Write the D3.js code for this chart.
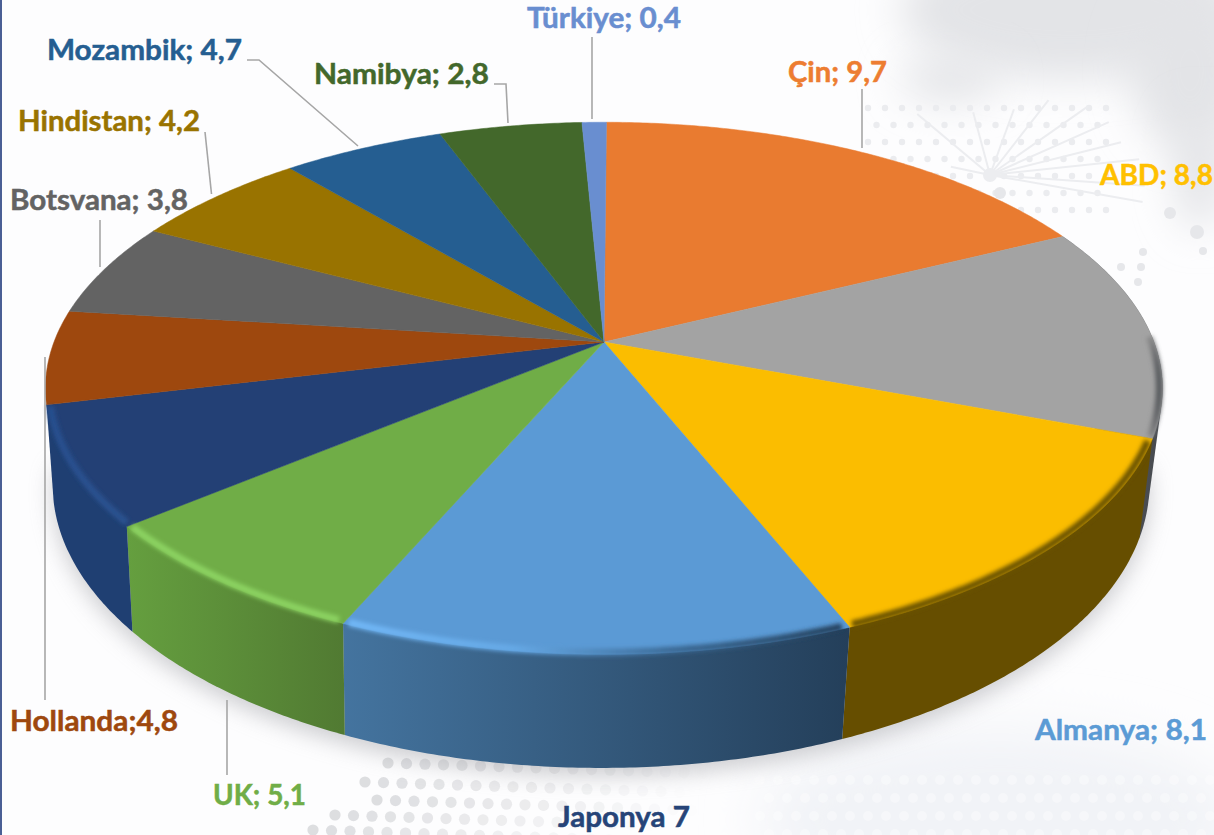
<!DOCTYPE html>
<html>
<head>
<meta charset="utf-8">
<script src="https://cdn.jsdelivr.net/npm/d3@7"></script>
<style>
  html, body { margin: 0; padding: 0; background: #fff; overflow: hidden; }
  text { font-family: Lato, sans-serif; font-weight: 700; font-size: 28px; stroke-width: 0.5px; }
</style>
</head>
<body>
<svg id="chart" width="1214" height="835"></svg>
<script>
// slice order, clockwise from the top. the grey slice has no label in the picture
const names = ['Çin', '', 'ABD', 'Almanya', 'UK', 'Japonya', 'Hollanda', 'Botsvana', 'Hindistan', 'Mozambik', 'Namibya', 'Türkiye']
const labelValues = ['9,7', '', '8,8', '8,1', '5,1', '7', '4,8', '3,8', '4,2', '4,7', '2,8', '0,4']
// slice sizes as drawn, read off the rim in degrees (the drawing does not follow the labels exactly)
const sliceShares = [63.6, 46.7, 47.4, 45.5, 27, 26, 20.5, 20.7, 22, 20, 17.6, 3]
const topColors = ['#e97b30', '#a3a3a3', '#fbbd00', '#5b9ad5', '#70ad47', '#234075', '#9e480e', '#636363', '#997300', '#255e91', '#43682b', '#698ed0']
const labelColors = ['#ed7d31', '', '#ffc000', '#5b9bd5', '#70ad47', '#264478', '#9e480e', '#636363', '#997300', '#255e91', '#43682b', '#698ed0']
const wallLeft = ['#b85f25', '#54575c', '#664e00', '#44749f', '#659f3f', '#1f3f72', '#7f3a0b', '#505050', '#7a5c00', '#1e4b74', '#365322', '#5470a5']
const wallRight = ['#b85f25', '#474a4f', '#664e00', '#243f5a', '#517a32', '#1f3f72', '#7f3a0b', '#505050', '#7a5c00', '#1e4b74', '#365322', '#5470a5']
// edge between top and wall, left to right along each front slice
const bevelColors = [null, ['#8f8f8f', '#55585c'], ['#6b5200', '#6b5200'], ['#72b8f7', '#66a9e6', '#3a6893', '#24405c'], ['#8cd362', '#8cd362'], ['#28508f', '#2a5290'], null, null, null, null, null, null]

const svg = d3.select('#chart')
const defs = svg.append('defs')

const rad = d => d * Math.PI / 180

// perspective of the disc: top face and (smaller, lower) bottom face
const topFace = { cx: 604, cy: 342, a: 550, b: 258, k: 0.174 }
const bottomFace = { cx: 601, cy: 435, a: 540, b: 275, k: 0.174 }

function project (face, angle, r = 1) {
  const u = Math.sin(angle) * r
  const v = Math.cos(angle) * r
  const w = 1 + face.k * v
  return [face.cx + face.a * u / w, face.cy - face.b * v / w]
}

function rim (face, a0, a1, r = 1) {
  const n = Math.max(2, Math.ceil(Math.abs(a1 - a0) / rad(0.5)))
  return d3.range(n + 1).map(i => project(face, a0 + (a1 - a0) * i / n, r))
}

const line = d3.line()

const pie = d3.pie().sort(null).startAngle(rad(0.3)).endAngle(rad(360.3))
const slices = pie(sliceShares).map((d, i) => ({
  ...d,
  name: names[i],
  color: topColors[i],
  left: wallLeft[i],
  right: wallRight[i],
  bevel: bevelColors[i]
}))

// filters
const blur = (id, dev) => defs.append('filter')
  .attr('id', id)
  .attr('x', '-80%').attr('y', '-80%').attr('width', '260%').attr('height', '260%')
  .append('feGaussianBlur').attr('stdDeviation', dev)
blur('blur2', 2.3)
blur('blur14', 11)
blur('blur20', 20)
blur('blur30', 28)

// background --------------------------------------------------------------
const bg = svg.append('g')
bg.append('rect').attr('width', 1214).attr('height', 835).attr('fill', '#fdfdfe')

// grey smudge top right
const smudges = [[1070, 10, 170, 70], [1190, 70, 60, 80], [1200, 170, 26, 60], [950, 80, 50, 22]]
bg.append('g').selectAll('ellipse').data(smudges).join('ellipse')
  .attr('cx', d => d[0]).attr('cy', d => d[1]).attr('rx', d => d[2]).attr('ry', d => d[3])
  .attr('fill', '#e3e4e7').attr('filter', 'url(#blur20)')
bg.append('ellipse')
  .attr('cx', 1000).attr('cy', 820).attr('rx', 240).attr('ry', 90)
  .attr('fill', '#f1f3f7').attr('filter', 'url(#blur30)')

// halftone dots, upper patch
const dotGrid = (x0, x1, y0, y1, step) => d3.range(y0, y1, step).flatMap((y, row) =>
  d3.range(x0 + (row % 2) * step / 2, x1, step).map(x => [x, y]))

bg.append('g').selectAll('circle')
  .data(dotGrid(868, 1110, 108, 222, 17))
  .join('circle')
  .attr('cx', d => d[0]).attr('cy', d => d[1]).attr('r', 3.2)
  .attr('fill', '#ebecef')

// burst of thin lines behind the Çin / ABD corner
const hub = [990, 175]
const spokes = [[-168, 40], [-140, 95], [-105, 65], [-70, 70], [-52, 95], [-35, 120], [-24, 130], [-14, 135], [-6, 150], [4, 155], [10, 155]]
bg.append('g').selectAll('line').data(spokes).join('line')
  .attr('x1', hub[0]).attr('y1', hub[1])
  .attr('x2', d => hub[0] + d[1] * Math.cos(rad(d[0])))
  .attr('y2', d => hub[1] + d[1] * Math.sin(rad(d[0])))
  .attr('stroke', '#ecedf0').attr('stroke-width', 2)
bg.append('circle').attr('cx', hub[0]).attr('cy', hub[1]).attr('r', 7).attr('fill', '#ecedf0')

const looseDots = [[1000, 193, 6], [1170, 213, 6], [1197, 232, 7], [1203, 251, 4], [1121, 267, 4], [1141, 267, 4], [1143, 252, 4], [1138, 282, 4]]
bg.append('g').selectAll('circle').data(looseDots).join('circle')
  .attr('cx', d => d[0]).attr('cy', d => d[1]).attr('r', d => d[2])
  .attr('fill', '#e6e7ea')

// halftone dots, bottom patch: each row starts a bit further left and fades to the right
const rowStarts = [[388, 763], [365, 782], [377, 800], [335, 815], [313, 830]]
const bottomDots = rowStarts.flatMap(r => d3.range(0, 20).map(i => [r[0] + i * 18.5, r[1] + i * 0.6, i]))
bg.append('g').selectAll('circle').data(bottomDots).join('circle')
  .attr('cx', d => d[0]).attr('cy', d => d[1]).attr('r', 5.6)
  .attr('fill', '#cfd0d3')
  .attr('opacity', d => Math.max(0, 0.7 - d[2] * 0.04))

bg.append('g').selectAll('circle')
  .data(dotGrid(760, 1214, 780, 842, 18))
  .join('circle')
  .attr('cx', d => d[0]).attr('cy', d => d[1]).attr('r', 5)
  .attr('fill', '#fff')
  .attr('opacity', 0.35)

// left border line
bg.append('rect').attr('x', 0).attr('y', 0).attr('width', 2).attr('height', 835).attr('fill', '#4a5f95')

// pie shadow --------------------------------------------------------------
svg.append('path')
  .attr('d', line(rim(bottomFace, rad(95), rad(265))) + 'Z')
  .attr('transform', 'translate(0,8)')
  .attr('fill', '#a4a5aa')
  .attr('opacity', 0.55)
  .attr('filter', 'url(#blur14)')

// outer walls -------------------------------------------------------------
// only the slices that show a wall from the front: gray to navy
slices.filter(d => d.bevel).forEach((d, i) => {
  const a = rim(topFace, d.startAngle, d.endAngle)
  const b = rim(bottomFace, d.endAngle, d.startAngle)
  const outline = d3.polygonHull(a.concat(b))
  const xs = outline.map(p => p[0])
  const grad = defs.append('linearGradient')
    .attr('id', 'wall' + i)
    .attr('gradientUnits', 'userSpaceOnUse')
    .attr('x1', d3.min(xs)).attr('x2', d3.max(xs))
    .attr('y1', 0).attr('y2', 0)
  grad.append('stop').attr('offset', 0).attr('stop-color', d.left)
  grad.append('stop').attr('offset', 1).attr('stop-color', d.right)
  svg.append('path')
    .attr('d', line(outline) + 'Z')
    .attr('fill', `url(#wall${i})`)
})

// top face ----------------------------------------------------------------
svg.append('g').selectAll('path')
  .data(slices)
  .join('path')
  .attr('d', d => line([[topFace.cx, topFace.cy]].concat(rim(topFace, d.startAngle, d.endAngle))) + 'Z')
  .attr('fill', d => d.color)
  .attr('stroke', d => d.color)
  .attr('stroke-width', 0.5)

// soft edge between top and wall, one per front slice
slices.filter(d => d.bevel).forEach((d, i) => {
  const from = i === 0 ? d.startAngle + rad(25) : d.startAngle + rad(0.6)
  const pts = rim(topFace, from, d.endAngle - rad(0.4), 0.994)
  const xs = pts.map(p => p[0])
  const grad = defs.append('linearGradient')
    .attr('id', 'bevel' + i)
    .attr('gradientUnits', 'userSpaceOnUse')
    .attr('x1', d3.min(xs)).attr('x2', d3.max(xs))
    .attr('y1', 0).attr('y2', 0)
  d.bevel.forEach((c, j) => grad.append('stop')
    .attr('offset', j / (d.bevel.length - 1))
    .attr('stop-color', c))
  svg.append('path')
    .attr('d', line(pts))
    .attr('fill', 'none')
    .attr('stroke', `url(#bevel${i})`)
    .attr('stroke-width', 7)
    .attr('filter', 'url(#blur2)')
})

// labels and leaders ------------------------------------------------------
const labelLayout = {
  'Türkiye': { x: 527, y: 28, w: 154, leader: [[592, 37], [592, 119]] },
  'Çin': { x: 788, y: 82, w: 99, leader: [[862, 89], [862, 148]] },
  'ABD': { x: 1100, y: 185, w: 113 },
  'Almanya': { x: 1035, y: 740, w: 172 },
  'Japonya': { x: 558, y: 827, w: 132, sep: ' ' },
  'UK': { x: 213, y: 805, w: 93, leader: [[227, 700], [227, 775]] },
  'Hollanda': { x: 10, y: 731, w: 168, sep: ';', leader: [[45, 357], [45, 700]] },
  'Botsvana': { x: 10, y: 210, w: 178, leader: [[100, 220], [100, 267]] },
  'Hindistan': { x: 18, y: 131, w: 182, leader: [[205, 132], [211.5, 194]] },
  'Mozambik': { x: 47, y: 60, w: 195, leader: [[247, 60], [259, 60], [358, 146]] },
  'Namibya': { x: 314, y: 84, w: 175, leader: [[494, 84], [506, 84], [508, 123]] }
}
const labelNames = names.filter(n => n)
const valueByName = new Map(names.map((n, i) => [n, labelValues[i]]))
const colorByName = new Map(names.map((n, i) => [n, labelColors[i]]))

svg.append('g').selectAll('path')
  .data(labelNames.filter(n => labelLayout[n].leader))
  .join('path')
  .attr('d', n => line(labelLayout[n].leader))
  .attr('fill', 'none')
  .attr('stroke', '#a6a6a6')
  .attr('stroke-width', 1.6)

svg.append('g').selectAll('text')
  .data(labelNames)
  .join('text')
  .attr('x', n => labelLayout[n].x)
  .attr('y', n => labelLayout[n].y)
  .attr('textLength', n => labelLayout[n].w)
  .attr('lengthAdjust', 'spacingAndGlyphs')
  .attr('fill', n => colorByName.get(n))
  .attr('stroke', n => colorByName.get(n))
  .text(n => {
    const sep = labelLayout[n].sep === undefined ? '; ' : labelLayout[n].sep
    return n + sep + valueByName.get(n)
  })
</script>
</body>
</html>
